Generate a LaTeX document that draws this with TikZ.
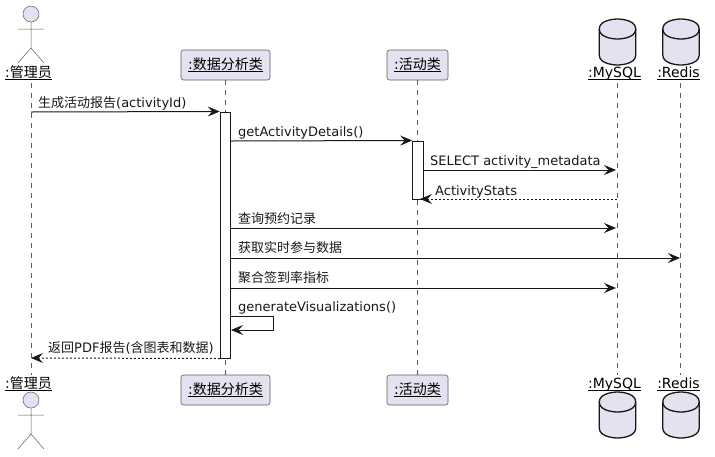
\documentclass[tikz,border=0pt]{standalone}
\usepackage{fontspec}
\setmainfont{DejaVu Sans}
\newfontfamily\cjk{Noto Sans CJK SC}
\usepackage{xcolor}
\usepackage{tikz}
\usetikzlibrary{arrows.meta, calc}
\definecolor{partfill}{HTML}{E2E2F0}
\definecolor{partline}{HTML}{181818}
\newcommand{\zh}[1]{{\cjk #1}}
\newcommand{\ulbl}[1]{\setbox0=\hbox{#1}\dp0=0pt \vtop{\copy0\kern2pt\hrule height 1pt}}
\tikzset{
  partbox/.style={draw=partline!70, fill=partfill, line width=0.6pt, rounded corners=2.5pt,
    minimum height=30pt, inner sep=0pt, font=\fontsize{14}{16}\selectfont},
  partname/.style={inner sep=0pt, anchor=base, font=\fontsize{14}{16}\selectfont},
  msgtext/.style={inner sep=0pt, anchor=base west, font=\fontsize{13}{15}\selectfont, text=partline},
  lifeline/.style={draw=partline!70, line width=0.5pt, dash pattern=on 5pt off 5pt},
  activebar/.style={draw=partline, fill=white, line width=1pt, minimum width=10.5pt, inner sep=0pt},
  msgline/.style={draw=partline, line width=1pt, -{Stealth[length=12pt, width=10pt, inset=4.5pt]}},
  backline/.style={msgline, dash pattern=on 2pt off 2pt},
  actorpic/.pic={
    \draw[partline!70, line width=0.5pt, fill=partfill] (0,0) circle (8);
    \draw[partline!70, line width=0.5pt] (0,8) -- (0,34) (-13,15) -- (13,15) (-13,49) -- (0,34) -- (13,49);
  },
  dbpic/.pic={
    \draw[partline, line width=1.3pt, fill=partfill] (-18.25,10)
      .. controls (-18.25,0) and (0,0) .. (0,0) .. controls (0,0) and (18.25,0) .. (18.25,10)
      -- (18.25,36) .. controls (18.25,46) and (0,46) .. (0,46) .. controls (0,46) and (-18.25,46) .. (-18.25,36) -- cycle;
    \draw[partline, line width=1.3pt] (-18.25,10)
      .. controls (-18.25,20) and (0,20) .. (0,20) .. controls (0,20) and (18.25,20) .. (18.25,10);
  }
}
\begin{document}
\begin{tikzpicture}[x=1pt, y=-1pt]
\useasboundingbox (0,0) rectangle (715,456);
% participants, top row
\node[partname] (adminT) at (28.5,77) {\ulbl{:\zh{管理员}}};
\node[partbox, minimum width=89pt] (reportT) at (225.5,65) {\ulbl{:\zh{数据分析类}}};
\node[partbox, minimum width=61pt] (activityT) at (417.5,65) {\ulbl{:\zh{活动类}}};
\node[partname] (mysqlT) at (614.5,77) {\ulbl{:MySQL}};
\node[partname] (redisT) at (678.5,77) {\ulbl{:Redis}};
% participants, bottom row
\node[partname] (adminB) at (28.5,388) {\ulbl{:\zh{管理员}}};
\node[partbox, minimum width=89pt] (reportB) at (225.5,390) {\ulbl{:\zh{数据分析类}}};
\node[partbox, minimum width=61pt] (activityB) at (417.5,390) {\ulbl{:\zh{活动类}}};
\node[partname] (mysqlB) at (614.5,388) {\ulbl{:MySQL}};
\node[partname] (redisB) at (678.5,388) {\ulbl{:Redis}};
% lifelines
\coordinate (adminTop) at (31,83);
\coordinate (adminEnd) at (31,375);
\coordinate (mysqlTop) at (617,83);
\coordinate (mysqlEnd) at (617,375);
\coordinate (redisTop) at (680,83);
\coordinate (redisEnd) at (680,375);
\draw[lifeline] (adminTop) -- (adminEnd);
\draw[lifeline] (reportT.south) -- (reportB.north);
\draw[lifeline] (activityT.south) -- (activityB.north);
\draw[lifeline] (mysqlTop) -- (mysqlEnd);
\draw[lifeline] (redisTop) -- (redisEnd);
% icons
\pic at (31,14) {actorpic};
\pic at (31,400) {actorpic};
\pic at (617.5,19) {dbpic};
\pic at (681,19) {dbpic};
\pic at (617.5,392) {dbpic};
\pic at (681,392) {dbpic};
% activations
\node[activebar, minimum height=246pt] (reportBar) at (225.5,235) {};
\node[activebar, minimum height=58pt] (activityBar) at (418,170) {};
% message ends
\coordinate (m1a) at (31,112);
\coordinate (m1b) at (reportBar.north west);
\coordinate (m2a) at (231,141);
\coordinate (m2b) at (activityBar.north west);
\coordinate (m3a) at (423,170);
\coordinate (m3b) at (616,170);
\coordinate (m4a) at (617,199);
\coordinate (m4b) at (420,199);
\coordinate (m5a) at (231,228);
\coordinate (m5b) at (616,228);
\coordinate (m6a) at (231,258);
\coordinate (m6b) at (680,258);
\coordinate (m7a) at (231,288);
\coordinate (m7b) at (616,288);
\coordinate (m8a) at (231,316);
\coordinate (m8c) at (273,316);
\coordinate (m8d) at (273,330);
\coordinate (m8b) at (231,330);
\coordinate (m9a) at (reportBar.south west);
\coordinate (m9b) at (31,358);
% messages
\draw[msgline] (m1a) -- (m1b);
\draw[msgline] (m2a) -- (m2b);
\draw[msgline] (m3a) -- (m3b);
\draw[backline] (m4a) -- (m4b);
\draw[msgline] (m5a) -- (m5b);
\draw[msgline] (m6a) -- (m6b);
\draw[msgline] (m7a) -- (m7b);
\draw[msgline] (m8a) -- (m8c) -- (m8d) -- (m8b);
\draw[backline] (m9a) -- (m9b);
% message labels
\node[msgtext] (t1) at (38,107) {\zh{生成活动报告}(activityId)};
\node[msgtext] (t2) at (238,136) {getActivityDetails()};
\node[msgtext] (t3) at (430,165) {SELECT activity\_metadata};
\node[msgtext] (t4) at (435,195) {ActivityStats};
\node[msgtext] (t5) at (238,223) {\zh{查询预约记录}};
\node[msgtext] (t6) at (238,252) {\zh{获取实时参与数据}};
\node[msgtext] (t7) at (238,282) {\zh{聚合签到率指标}};
\node[msgtext] (t8) at (238,311) {generateVisualizations()};
\node[msgtext] (t9) at (48,352) {\zh{返回}PDF\zh{报告}(\zh{含图表和数据})};
\end{tikzpicture}
\end{document}
